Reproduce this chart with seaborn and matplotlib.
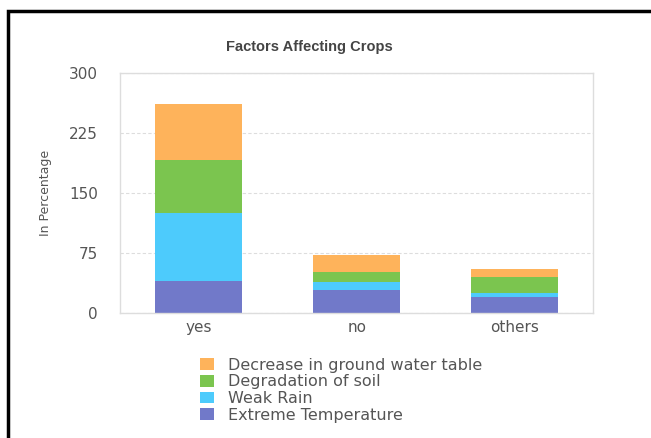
import matplotlib
matplotlib.use("Agg")
import matplotlib.pyplot as plt
from matplotlib.patches import Rectangle
import seaborn as sns
import pandas as pd
import numpy as np

# dados -----------------------------------------------------------------
categorias = ["yes", "no", "others"]
extreme_temperature = [40, 29, 20]
weak_rain = [85, 10, 5]
degradation_soil = [67, 13, 20]
decrease_water_table = [70, 21, 10]

series = ["Decrease in ground water table", "Degradation of soil",
          "Weak Rain", "Extreme Temperature"]
cores = ["#FEB35B", "#7BC54F", "#4DCBFC", "#7179C9"]
yticks = [0, 75, 150, 225, 300]

# montando tabela com valores empilhados
df = pd.DataFrame({
    "categoria": categorias,
    "Extreme Temperature": extreme_temperature,
    "Weak Rain": weak_rain,
    "Degradation of soil": degradation_soil,
    "Decrease in ground water table": decrease_water_table,
})
ordem_base = ["Extreme Temperature", "Weak Rain", "Degradation of soil",
              "Decrease in ground water table"]
acumulado = df[ordem_base].cumsum(axis=1)

sns.set_style("white")
plt.rcParams["font.family"] = ["DejaVu Sans"]

fig = plt.figure(figsize=(6.51, 4.38), dpi=100)
ax = fig.add_axes([0.1843, 0.2847, 0.7271, 0.5480])

# desenha do topo para a base, um por cima do outro
for serie, cor in zip(series, cores):
    sns.barplot(x=df["categoria"], y=acumulado[serie], color=cor,
                saturation=1, width=0.55, label=serie, ax=ax,
                edgecolor="none")

ax.set_ylim(0, 300)
ax.set_yticks(yticks)
ax.set_xlabel("")
ax.set_ylabel("In Percentage", fontsize=9, color="#555555")
ax.yaxis.set_label_coords(-0.144, 0.5)
ax.tick_params(axis="y", length=0, pad=16, labelsize=11, labelcolor="#555555")
ax.tick_params(axis="x", length=0, pad=5, labelsize=11, labelcolor="#555555")

for sp in ax.spines.values():
    sp.set_visible(True)
    sp.set_color("#dddddd")
    sp.set_linewidth(1)
ax.yaxis.grid(True, linestyle=(0, (3, 2)), color="#dddddd", linewidth=0.8)
ax.set_axisbelow(True)

fig.text(0.4747, 0.893, "Factors Affecting Crops", ha="center", va="center",
         fontsize=10.5, fontweight="bold", color="#444444",
         family=["Liberation Sans", "DejaVu Sans"])

# legenda fora do eixo, embaixo
handles, labels = ax.get_legend_handles_labels()
if ax.get_legend() is not None:
    ax.get_legend().remove()
fig.legend(handles, labels, loc="upper left", bbox_to_anchor=(0.307, 0.183),
           frameon=False, fontsize=11.5, labelcolor="#555555",
           handlelength=0.9, handleheight=0.75, handletextpad=0.85,
           labelspacing=0.1, borderpad=0, borderaxespad=0)

# moldura preta da imagem original
fig.patches.append(Rectangle((8 / 651, -0.2), 1.5, 1.2 - 11 / 438,
                             transform=fig.transFigure, fill=False,
                             edgecolor="black", linewidth=2.5))

fig.savefig("out.png", dpi=100)
